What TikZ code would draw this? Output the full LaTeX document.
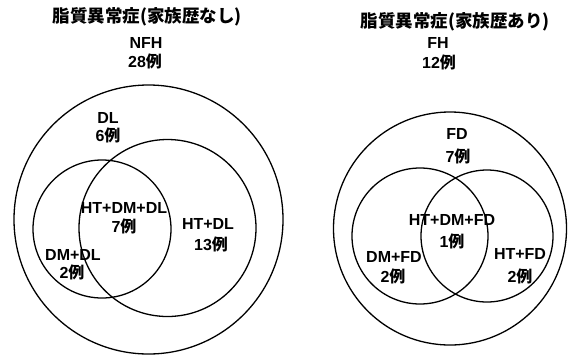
\documentclass[tikz,border=0pt]{standalone}
\usepackage{fontspec}
\setmainfont{Liberation Sans}
\newfontfamily\jp{Noto Sans CJK JP}
\newcommand\rei{{\jp\bfseries 例}}
\tikzset{
  ring/.style={circle, draw=black, line width=1.3pt, inner sep=0pt, minimum size=#1},
  lbl/.style={inner sep=0pt, font=\fontsize{16}{18}\selectfont\bfseries, text height=11.5pt, text depth=0pt, anchor=center},
  ttl/.style={inner sep=0pt, font=\fontsize{17.5}{20}\selectfont\jp\bfseries, text height=11.5pt, text depth=0pt, anchor=center}
}
\begin{document}
\begin{tikzpicture}[x=1pt,y=-1pt]
\useasboundingbox (0,0) rectangle (575,357);
% left diagram
\node[ring=269pt] (outerL) at (148.5,219.5) {};
\node[ring=138pt] (dmL) at (102,229) {};
\node[ring=177pt] (htL) at (167.5,228) {};
\node[ttl] (titleL) at (147,17) {脂質異常症(家族歴なし)};
\node[lbl] (nfh) at (146,43) {NFH};
\node[lbl] (nfhn) at (145,62) {28\rei};
\node[lbl] (dl) at (108,118) {DL};
\node[lbl] (dln) at (108,136) {6\rei};
\node[lbl] (tripL) at (124,208) {HT+DM+DL};
\node[lbl] (tripLn) at (124,227) {7\rei};
\node[lbl] (htdl) at (208,224) {HT+DL};
\node[lbl] (htdln) at (211,245) {13\rei};
\node[lbl] (dmdl) at (73,255) {DM+DL};
\node[lbl] (dmdln) at (72,273) {2\rei};
% right diagram
\node[ring=233pt] (outerR) at (450,228.5) {};
\node[ring=136pt] (dmR) at (420,236) {};
\node[ring=132pt] (htR) at (487,236) {};
\node[ttl] (titleR) at (455,22) {脂質異常症(家族歴あり)};
\node[lbl] (fh) at (438,43) {FH};
\node[lbl] (fhn) at (439,63) {12\rei};
\node[lbl] (fd) at (457,134) {FD};
\node[lbl] (fdn) at (458,157) {7\rei};
\node[lbl] (tripR) at (452,220) {HT+DM+FD};
\node[lbl] (tripRn) at (452,242) {1\rei};
\node[lbl] (dmfd) at (394,257) {DM+FD};
\node[lbl] (dmfdn) at (393,277) {2\rei};
\node[lbl] (htfd) at (520,254) {HT+FD};
\node[lbl] (htfdn) at (520,277) {2\rei};
\end{tikzpicture}
\end{document}
